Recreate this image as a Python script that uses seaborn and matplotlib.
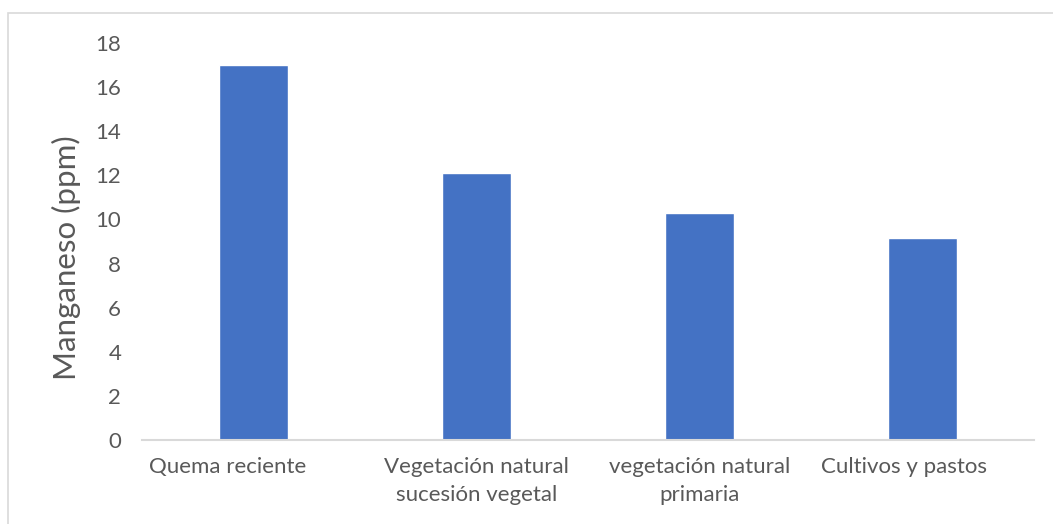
import matplotlib
matplotlib.use("Agg")
import matplotlib.pyplot as plt
import matplotlib.patches as mpatches
import matplotlib.transforms as mtransforms
import seaborn as sns
import pandas as pd

categories = ["Quema reciente", "Vegetación natural\nsucesión vegetal",
              "vegetación natural\nprimaria", "Cultivos y pastos"]
manganeso = [17.0, 12.1, 10.3, 9.15]
y_ticks = [0, 2, 4, 6, 8, 10, 12, 14, 16, 18]

sns.set_theme(style="white")
plt.rcParams["font.family"] = ["Lato", "DejaVu Sans"]

text_color = "#595959"
line_color = "#D9D9D9"
bar_color = "#4472C4"

df = pd.DataFrame({"categoria": categories, "valor": manganeso})

fig = plt.figure(figsize=(10.53, 5.24), dpi=100)
ax = fig.add_axes([0.1349, 0.1603, 0.9824 - 0.1349, 0.918 - 0.1603])

sns.barplot(data=df, x="categoria", y="valor", color=bar_color,
            saturation=1, width=0.31, ax=ax)

ax.set_ylim(0, 18)
ax.set_xlim(-0.5, len(categories) - 0.5)
ax.set_yticks(y_ticks)
ax.set_yticklabels([str(t) for t in y_ticks], fontsize=16, color=text_color)
ax.tick_params(axis="y", length=0, pad=15)
ax.tick_params(axis="x", length=0, pad=12, labelsize=16, labelcolor=text_color)

# single-line labels sit slightly left of their bars
shifts = [-26, 0, 0, -19]
for lbl, dx in zip(ax.get_xticklabels(), shifts):
    lbl.set_linespacing(1.55)
    if dx:
        lbl.set_transform(lbl.get_transform() +
                          mtransforms.ScaledTranslation(dx / 100, 0, fig.dpi_scale_trans))

ax.set_xlabel("")
ax.set_ylabel("Manganeso (ppm)", fontsize=22.5, color=text_color)
ax.yaxis.set_label_coords(-0.068, 0.458)

for side in ["top", "right", "left"]:
    ax.spines[side].set_visible(False)
ax.spines["bottom"].set_color(line_color)
ax.spines["bottom"].set_linewidth(1.5)

# chart area frame
frame = mpatches.Rectangle((8 / 1053, -0.1), 1.2, 1 - 13 / 524 + 0.1,
                           transform=fig.transFigure, fill=False,
                           edgecolor=line_color, linewidth=1.2)
fig.patches.append(frame)

fig.savefig("out.png", dpi=100)
